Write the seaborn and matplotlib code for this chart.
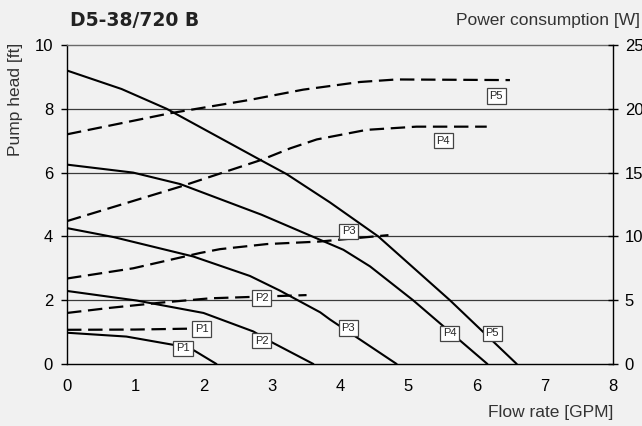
import matplotlib
matplotlib.use("Agg")
import matplotlib.pyplot as plt
import seaborn as sns
import pandas as pd

# ---- data -------------------------------------------------------------
speeds = ["P1", "P2", "P3", "P4", "P5"]

# pump head curves [ft] vs flow [GPM]
head_p1_x = [0, 0.87, 1.56, 1.85, 2.19]
head_p1_y = [0.98, 0.86, 0.60, 0.44, 0.0]
head_p2_x = [0, 1.02, 2.0, 2.73, 3.02, 3.61]
head_p2_y = [2.29, 1.99, 1.60, 1.02, 0.66, 0.0]
head_p3_x = [0, 0.68, 1.85, 2.68, 3.12, 3.71, 3.85, 4.83]
head_p3_y = [4.26, 3.98, 3.37, 2.76, 2.30, 1.62, 1.40, 0.0]
head_p4_x = [0, 0.97, 1.66, 2.85, 4.05, 4.44, 5.07, 6.16]
head_p4_y = [6.25, 6.0, 5.64, 4.68, 3.58, 3.06, 2.0, 0.0]
head_p5_x = [0, 0.80, 1.46, 2.83, 3.22, 3.85, 4.56, 5.61, 6.59]
head_p5_y = [9.2, 8.62, 8.0, 6.4, 5.95, 5.07, 4.0, 2.0, 0.0]

# power consumption curves [W] vs flow [GPM]
pow_p1_x = [0, 1.0, 2.14]
pow_p1_y = [2.68, 2.70, 2.80]
pow_p2_x = [0, 0.63, 1.36, 2.1, 3.51]
pow_p2_y = [4.0, 4.4, 4.8, 5.15, 5.4]
pow_p3_x = [0, 0.97, 1.95, 2.24, 2.93, 3.71, 4.71]
pow_p3_y = [6.7, 7.5, 8.7, 9.0, 9.4, 9.6, 10.1]
pow_p4_x = [0, 1.66, 2.85, 3.27, 3.66, 4.39, 5.12, 6.15]
pow_p4_y = [11.2, 13.9, 16.0, 16.9, 17.6, 18.35, 18.6, 18.6]
pow_p5_x = [0, 1.51, 2.68, 3.46, 4.29, 4.83, 6.49]
pow_p5_y = [18.0, 19.65, 20.7, 21.5, 22.1, 22.3, 22.25]

# label positions: head labels in ft, power labels in W
lab_head_x = [1.70, 2.85, 4.12, 5.61, 6.23]
lab_head_y = [0.49, 0.73, 1.13, 0.96, 0.96]
lab_pow_x = [1.97, 2.85, 4.13, 5.51, 6.29]
lab_pow_y = [2.75, 5.18, 10.4, 17.5, 21.0]

x_ticks = [0, 1, 2, 3, 4, 5, 6, 7, 8]
y_ticks = [0, 2, 4, 6, 8, 10]
y2_ticks = [0, 5, 10, 15, 20, 25]

title = "D5-38/720 B"
xlabel = "Flow rate [GPM]"
ylabel = "Pump head [ft]"
y2label = "Power consumption [W]"

# ---- build tables ------------------------------------------------------
head_sets = [(head_p1_x, head_p1_y), (head_p2_x, head_p2_y), (head_p3_x, head_p3_y),
             (head_p4_x, head_p4_y), (head_p5_x, head_p5_y)]
pow_sets = [(pow_p1_x, pow_p1_y), (pow_p2_x, pow_p2_y), (pow_p3_x, pow_p3_y),
            (pow_p4_x, pow_p4_y), (pow_p5_x, pow_p5_y)]

head_df = pd.concat([pd.DataFrame({"flow": x, "val": y, "speed": s})
                     for s, (x, y) in zip(speeds, head_sets)], ignore_index=True)
pow_df = pd.concat([pd.DataFrame({"flow": x, "val": y, "speed": s})
                    for s, (x, y) in zip(speeds, pow_sets)], ignore_index=True)

# ---- style ---------------------------------------------------------------
sns.set_style("white")
bg = "#f1f1f1"
plt.rcParams["font.family"] = ["Liberation Sans", "DejaVu Sans"]
plt.rcParams["figure.facecolor"] = bg
plt.rcParams["axes.facecolor"] = bg
plt.rcParams["lines.solid_joinstyle"] = "round"

fig = plt.figure(figsize=(6.42, 4.26), dpi=100)
ax = fig.add_axes([67 / 642, 1 - 364 / 426, 546 / 642, 319 / 426])
ax2 = ax.twinx()

for s in speeds:
    d = head_df[head_df.speed == s]
    sns.lineplot(data=d, x="flow", y="val", ax=ax, color="black", lw=1.5,
                 sort=False, estimator=None, legend=False)
    d2 = pow_df[pow_df.speed == s]
    sns.lineplot(data=d2, x="flow", y="val", ax=ax2, color="black", lw=1.6,
                 sort=False, estimator=None, legend=False, linestyle=(0, (6.5, 3)))

ax.set_xlim(0, 8)
ax.set_ylim(0, 10)
ax2.set_ylim(0, 25)
ax.set_xticks(x_ticks)
ax.set_yticks(y_ticks)
ax2.set_yticks(y2_ticks)
ax.set_xlabel("")
ax.set_ylabel("")
ax2.set_ylabel("")

for yv in y_ticks[1:-1]:
    ax.axhline(yv, color="#3a3a3a", lw=0.9, zorder=0.5)

ax.spines["top"].set_color("#6a6a6a")
ax.spines["top"].set_linewidth(1.0)
for sp in ["left", "bottom"]:
    ax.spines[sp].set_color("black")
    ax.spines[sp].set_linewidth(1.0)
ax.spines["right"].set_visible(False)
ax2.spines["right"].set_color("black")
ax2.spines["right"].set_linewidth(1.0)
for sp in ["top", "left", "bottom"]:
    ax2.spines[sp].set_visible(False)

ax.tick_params(axis="y", direction="out", length=4, width=1, pad=6,
               labelsize=12, colors="black")
ax.tick_params(axis="x", direction="out", length=5, width=1, pad=6,
               labelsize=12, colors="black")
ax2.tick_params(axis="y", direction="inout", length=7, width=1, pad=5,
                labelsize=12, colors="black")
ax.set_facecolor(bg)

box = dict(boxstyle="square,pad=0.25", fc="white", ec="#444444", lw=0.9)
for s, x, y in zip(speeds, lab_head_x, lab_head_y):
    ax.text(x, y, s, fontsize=8, ha="center", va="center", bbox=box, zorder=5)
for s, x, y in zip(speeds, lab_pow_x, lab_pow_y):
    ax2.text(x, y, s, fontsize=8, ha="center", va="center", bbox=box, zorder=5)

fig.text(70 / 642, 1 - 20 / 426, title, fontsize=13.5, fontweight="bold",
         ha="left", va="center", color="#222222",
         family=["DejaVu Sans"])
fig.text(640 / 642, 1 - 21 / 426, y2label, fontsize=12.5, ha="right",
         va="center", color="#333333")
fig.text(613 / 642, 1 - 412 / 426, xlabel, fontsize=12.5, ha="right",
         va="center", color="#333333")
fig.text(16 / 642, 1 - 99 / 426, ylabel, fontsize=12.5, ha="center",
         va="center", rotation=90, color="#333333")

fig.savefig("out.png", dpi=100, facecolor=bg)
